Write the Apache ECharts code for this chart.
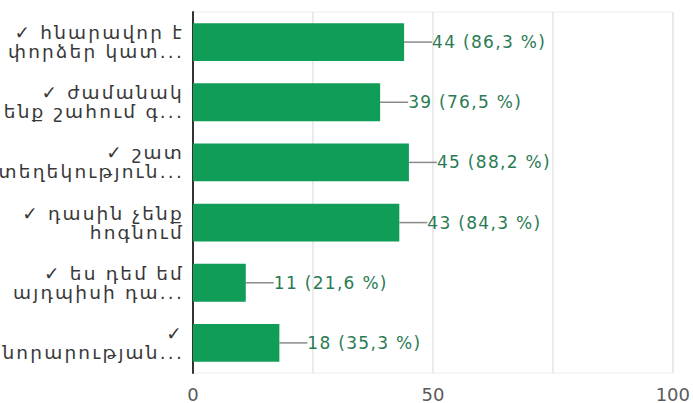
<!DOCTYPE html>
<html>
<head>
<meta charset="utf-8">
<script src="https://cdn.jsdelivr.net/npm/echarts@6/dist/echarts.min.js"></script>
<style>
  html, body { margin: 0; padding: 0; background: #fff; }
  #chart { width: 693px; height: 403px; }
  /* wide lettering for the option names and value labels */
  #chart text[fill="#383838"] { letter-spacing: 2.2px; }
  #chart text[fill="#2a7b54"] { letter-spacing: 1.3px; }
</style>
</head>
<body>
<div id="chart"></div>
<script>
// Answer options and how many respondents picked each one
const categories = [
  '✓ հնարավոր է\nփորձեր կատ...',
  '✓ ժամանակ\nենք շահում գ...',
  '✓ շատ\nտեղեկություն...',
  '✓ դասին չենք\nհոգնում',
  '✓ ես դեմ եմ\nայդպիսի դա...',
  '✓\nնորարության...'
];
const counts = [44, 39, 45, 43, 11, 18];
const percents = ['86,3', '76,5', '88,2', '84,3', '21,6', '35,3'];
const xTickLabels = { 0: '0', 50: '50', 100: '100' };

const FONT = '"DejaVu Sans", sans-serif';

const chart = echarts.init(document.getElementById('chart'), null, { renderer: 'svg' });

chart.setOption({
  animation: false,
  grid: {
    left: 193, right: 20, top: 12, bottom: 29,
    show: true, borderColor: '#ececec', borderWidth: 1
  },
  xAxis: {
    type: 'value',
    min: 0, max: 100, interval: 25,
    axisLine: { show: false },
    axisTick: { show: false },
    splitLine: { show: true, lineStyle: { color: '#e4e4e4', width: 1.5 } },
    axisLabel: {
      color: '#5a5a5a', fontSize: 18, fontFamily: FONT, margin: 12,
      formatter: v => xTickLabels[v] || ''
    }
  },
  yAxis: {
    type: 'category',
    inverse: true,
    data: categories,
    axisLine: { show: true, lineStyle: { color: '#333', width: 2 } },
    axisTick: { show: false },
    axisLabel: {
      color: '#383838', fontSize: 18.5, fontFamily: FONT, margin: 9,
      lineHeight: 19, align: 'right', padding: [6, 0, 0, 0]
    }
  },
  series: [{
    type: 'bar',
    data: counts,
    barCategoryGap: '37%',
    itemStyle: { color: '#0f9d58' },
    label: {
      show: true,
      position: 'right',
      distance: 0,
      color: '#2a7b54',
      fontSize: 17,
      fontFamily: FONT,
      formatter: p => p.value + ' (' + percents[p.dataIndex] + ' %)'
    },
    labelLayout: { dx: 28 },
    labelLine: {
      show: true,
      lineStyle: { color: '#8a8a8a', width: 1.5 }
    }
  }]
});
</script>
</body>
</html>
